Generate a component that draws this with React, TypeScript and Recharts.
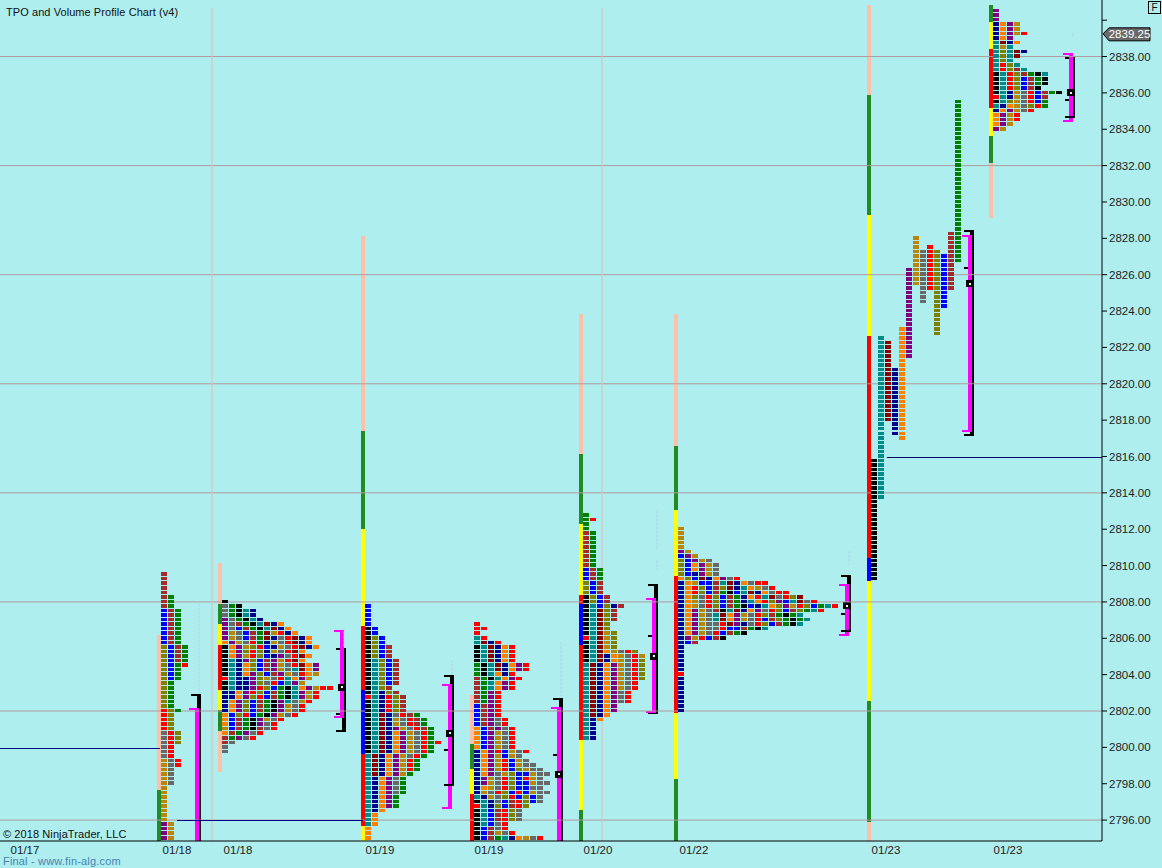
import React from 'react';
import { ComposedChart, Scatter, XAxis, YAxis, ReferenceArea, ReferenceLine, ReferenceDot } from 'recharts';

const PRICE_LOW = 2794.85;
const PRICE_HIGH = 2841.11;
const priceTicks = [2796,2798,2800,2802,2804,2806,2808,2810,2812,2814,2816,2818,2820,2822,2824,2826,2828,2830,2832,2834,2836,2838,2840];
const gridPrices = [2796,2802,2808,2814,2820,2826,2832,2838];
const dateTickSlots = [25,177,238,380,489,598,694,886,1008];
const dateTickLabels = ['01/17','01/18','01/18','01/19','01/19','01/20','01/22','01/23','01/23'];
const lastPrice = 2839.25;

const tpoColors: Record<string,string> = {
  k:'#000000', t:'#008b8b', m:'#8b0000', n:'#00008b', o:'#ff7f00', p:'#800080', d:'#b8860b',
  G:'#696969', r:'#ff0000', O:'#808000', b:'#0000ff', B:'#a52a2a', g:'#008000',
};
const splitColors: Record<string,string> = { s:'#ffc0a8', f:'#228b22', y:'#ffff00', r:'#ff0000', b:'#0000ff' };

const profile1Rows = ['B','B','B','B','B','Bg','Bg','Bg','bBg','bBg','bBg','bBg','bBg','bBg','bBg','bBg',
  'ObBg','ObBg','ObBg','ObBg','Obgr','Obg','Obg','Obg','Og','Og','Og','Og','Og','Og','rOg','rO','rO','rO','rO',
  'GrO','GrO','GrO','Gr','Gr','Gr','dGr','dGr','dG','dG','dG','dG','d','d','d','d','d','d','d','d','pd','pd','pd','pd'];
const profile2Rows = ['k','Ggk','Ggktn','Ggktn','pGgktn','pGBgktmno','pGbBgktmno','pdGbBgmdrno','pdGbBgmnGrmno','opdGrgndGrmno',
  'kopdOrbndGrmno','kopOrOndGrmo','kopdrObnpGrmo','ktnpObBpdrmo','ktnoObBpdGrmop','ktnoObBpdGtmop','ktnopObBpdGrod',
  'rtnnpOdGrtopd','ktnnpOGrbtpd','ktnnprObgktopdrr','nnoprObBgktpdr','nnopOrbBgktpdr','nopObBgkptGdr','nopObBgkpdGr','nopObBgkpdGr',
  'obOrbgkpdGr','obBgkpdGr','obBgkpGr','dbBgkBGr','oBgpGr','BgpGr','BG','G','G'];
const profile3Rows = ['b','b','b','b','b','kb','kb','kOb','kOb','kObB','kObB','kObB','ktObB','ktObB','ktObB','ktObB','ktObB','ktObB','ktOB',
  'ktnOB','rtnrOB','ktnrOB','ktnrOB','ktnrOB','ktmnGrBg','ktmndGrBg','ktmndGrBg','ktmnpdGrBg','ktmnopdGrg','ktmnopdGrg','ktmnopdGrgr',
  'ktmnopdGrg','ktmnopdGrg','tmnopdGrg','tmnopdrg','tmnopdrg','tmnopdrg','tmnopdg','tnopGg','tnopGg','tnopGg','tnopGg','tnopg','tnopg','tnopg',
  'tno','to','to','to','o','o','o'];
const profile4Rows = ['r','rr','r','tr','tmnr','ktmnor','ktmnor','ktmnor','ktmnor','gktmnopr','gktmnopr','gktonr','Bgktopr','Bgtopr','Bgtopr',
  'Bgpr','Bgpr','Bgpr','bBpr','bBpr','bBpr','bBpGr','bBpGr','obBpGr','obpdGr','obpdGr','obpdGr','obpdGr','noprbdGr','nopdbdG','nopdrbdG',
  'nopdrbdGG','nopdrbOdGG','nopGdObbdGG','npdGrObrdG','npdGrObbdGG','nodGrObbGG','ndGrObrbdGG','tndGOrbObG','ktnGbBrObG','rtnObBrO',
  'ktbBrOG','ktbBrOG','ktbBrOG','ktbGr','kbBGr','kbBdGr','kbBgtnodGr'];
const profile5Rows = ['g','gr','g','g','Bg','Bg','Bg','Bg','Bg','Bg','Bg','Bg','bBg','bBg','bBg','ObB','ObB','ObB','kObB','kObB','ktbOnB',
  'ktmOB','ktmOB','ktmOB','ktmO','ktmO','ktmdO','rtmdO','ktmdO','ktmdO','ktmodGrO','ktmnodGrd','ktmnodGrO','tmnopdGrO','tmnopdGrO','tmnopdGrO','tmnopdGrO',
  'tmnopdGr','tmnopdGr','tmnopGr','tmnopGr','tmnopGr','tmnop','tmnop','tmno','tno','tn','tn','tn','tn'];
const profile6Rows = ['d','d','d','d','d','pd','bpd','ObpdG','ObopdG','ObopdG','ObnpdG','oObmnopGr','nodbbBtmnoGrr','norObBOmntodGr','norObBgkbtmnoGrr',
  'noOGrObBgnortmGrOm','nodGrObBgntorOpbtmGr','nodGrObBgkbntoOpdrObgtr','nopdGBktmnopGrObBOgtr','nopdGtmopdGrOBgkgt','nopdGtmopdGrbBOgkgt','nopdGGrmpnGrObBgkt',
  'nopdGGrbbBgkt','nopdGrbBgk','npdrbBk','nbB','n','n','n','n','n','n','r','n','n','n','n','n','n','n','n'];
const profile8Rows = ['p','p','p','nopd','nopd','nopdr','nop','tmno','tdt','tOtmn','tOtm','tOt','trOt','trOBt','ktrOBgkt','ktrObBgk','ktrObBgk','ktrObBk',
  'ktndGrbBgk','rtndGrbB','ktOdGrbg','tnodGOrg','nopdGr','opdr','opdr','opd','pd'];
// profile 7 is made of long unbroken columns: colour code, top price, bottom price
const profile7Columns: [string,number,number][] = [
  ['k',2815.75,2809.25],['t',2822.5,2813.75],['m',2822.25,2818],['n',2820.75,2817.25],['o',2823,2817],['p',2826.25,2821.5],['d',2828,2825.5],
  ['G',2827.25,2824.5],['r',2827.5,2825.25],['O',2827.25,2822.75],['b',2827,2824.25],['B',2828.25,2825.25],['g',2835.5,2826.75],
];

const rowProfiles: { rows: string[]; top: number; slot: number }[] = [
  { rows: profile1Rows, top: 2809.5, slot: 164 },
  { rows: profile2Rows, top: 2808, slot: 225 },
  { rows: profile3Rows, top: 2807.75, slot: 368 },
  { rows: profile4Rows, top: 2806.75, slot: 477 },
  { rows: profile5Rows, top: 2812.75, slot: 586 },
  { rows: profile6Rows, top: 2812, slot: 681 },
  { rows: profile8Rows, top: 2840.5, slot: 996 },
];
const profile7Slot = 874;

const splitBars: { slot: number; runs: [string,number,number][] }[] = [
  { slot: 157, runs: [['s',2806.18,2797.65],['f',2797.65,PRICE_LOW]] },
  { slot: 218, runs: [['s',2810.14,2807.89],['f',2807.89,2806.78],['y',2806.78,2805.63],['r',2805.63,2803.15],['y',2803.15,2802.05],['f',2802.05,2800.89],['s',2800.89,2798.64]] },
  { slot: 361, runs: [['s',2828.13,2817.4],['f',2817.4,2812.01],['y',2812.01,2806.68],['r',2806.68,2803.15],['b',2803.15,2799.63],['r',2799.63,2795.67],['y',2795.67,PRICE_LOW]] },
  { slot: 470, runs: [['s',2802.88,2800.18],['f',2800.18,2798.81],['y',2798.81,2797.43],['r',2797.43,PRICE_LOW]] },
  { slot: 579, runs: [['s',2823.84,2816.14],['f',2816.14,2812.29],['y',2812.29,2808.38],['r',2808.38,2807.89],['b',2807.89,2805.63],['r',2805.63,2800.4],['y',2800.4,2796.55],['f',2796.55,PRICE_LOW]] },
  { slot: 674, runs: [['s',2823.84,2816.58],['f',2816.58,2813.06],['y',2813.06,2809.43],['r',2809.43,2801.89],['y',2801.89,2798.26],['f',2798.26,PRICE_LOW]] },
  { slot: 867, runs: [['s',2840.83,2835.88],['f',2835.88,2829.28],['y',2829.28,2822.63],['r',2822.63,2810.42],['b',2810.42,2809.15],['y',2809.15,2802.55],['f',2802.55,2795.89],['s',2795.89,PRICE_LOW]] },
  { slot: 989, runs: [['f',2840.83,2839.9],['y',2839.9,2838.41],['r',2838.41,2835.17],['y',2835.17,2833.63],['f',2833.63,2832.14],['s',2832.14,2829.12]] },
];

const bracketSlots = [195,340,448,557,652,845,968,1069];
const blackTops = [2802.93,2805.46,2803.98,2802.71,2808.98,2809.48,2828.46,2837.97];
const blackBottoms = [PRICE_LOW,2800.84,2797.87,PRICE_LOW,2801.83,2806.34,2817.13,2834.62];
const blackTicks = [2802.93,2801.89,2799.91,2799.63,2806.18,2807.39,2826.42,2835.66];
const magentaTops = [2802.16,2806.45,2803.48,2802.22,2808.21,2808.98,2828.18,2838.19];
const magentaBottoms = [PRICE_LOW,2801.6,2796.61,PRICE_LOW,2801.89,2806.12,2817.35,2834.4];
const pocPrices = [null,2803.3,2800.79,2798.53,2805.02,2807.78,2825.51,2836.02];

const sessionLines: [number,number,number][] = [[0,160,2799.96],[177,363,2796]];
const darkLine: [number,number,number] = [887,1102,2815.96];
const sessionDividers = [212,602];
const faintTraces: [number,number,number][] = [
  [199,2807.9,2803],[344,2806.6,2805.5],[452,2804.8,2804],[561,2805.8,2802.8],[657,2813.05,2810.85],[657,2810.3,2809.75],[849,2810.8,2810],[1073,2839.3,2839.05],
];

type Cell = { x: number; y: number; code: string };
const cells: Cell[] = [];
rowProfiles.forEach(({ rows, top, slot }) => {
  rows.forEach((row, i) => {
    row.split('').forEach((code, j) => cells.push({ x: slot + j * 7, y: top - i * 0.25, code }));
  });
});
profile7Columns.forEach(([code, hi, lo], j) => {
  for (let p = hi; p >= lo; p -= 0.25) cells.push({ x: profile7Slot + j * 7, y: p, code });
});

const TpoCell = (props: any) => {
  const { cx, cy, payload } = props;
  const top = Math.round(cy - 2.27);
  const bottom = Math.round(cy + 2.27) - 1;
  return <rect x={Math.round(cx - 3)} y={top} width={6} height={Math.max(bottom - top, 2)} fill={tpoColors[payload.code]} shapeRendering="crispEdges" />;
};

const Flag = (props: any) => {
  const { cx, cy } = props;
  return (
    <g>
      <polygon points={`${cx + 1},${cy} ${cx + 7},${cy - 6} ${cx + 48},${cy - 6} ${cx + 48},${cy + 7} ${cx + 7},${cy + 7}`} fill="#696969" stroke="#000" strokeWidth={1} />
      <text x={cx + 27.5} y={cy + 4.5} textAnchor="middle" fontSize={11.5} fontFamily="Liberation Sans" fill="#fff">{lastPrice.toFixed(2)}</text>
    </g>
  );
};

const px = 1 / 18.18;
const box = (key: string, x1: number, x2: number, y1: number, y2: number, fill: string) => (
  <ReferenceArea key={key} x1={x1} x2={x2} y1={y1} y2={y2} fill={fill} fillOpacity={1} stroke="none" ifOverflow="visible" shapeRendering="crispEdges" />
);

const textBase: React.CSSProperties = { position: 'absolute', fontFamily: '"Liberation Sans", sans-serif', fontSize: 11, whiteSpace: 'nowrap', lineHeight: '13px' };

export default function App() {
  return (
    <div style={{ position: 'absolute', left: 0, top: 0, width: 1162, height: 868, background: '#afeeee', overflow: 'hidden' }}>
      <ComposedChart width={1162} height={868} margin={{ top: 0, right: 0, bottom: 0, left: 0 }} data={cells}>
        <XAxis type="number" dataKey="x" domain={[0, 1102]} ticks={dateTickSlots} interval={0} allowDataOverflow height={27}
          tickFormatter={(v: number) => dateTickLabels[dateTickSlots.indexOf(v)]} tickLine={false} axisLine={{ stroke: '#000', strokeWidth: 1 }}
          tick={{ fontSize: 11.5, fontFamily: 'Liberation Sans', fill: '#222', dy: -3 }} tickMargin={2} />
        <YAxis type="number" dataKey="y" orientation="right" width={60} domain={[PRICE_LOW, PRICE_HIGH]} allowDataOverflow ticks={priceTicks} interval={0}
          tickFormatter={(v: number) => (v === 2840 ? '' : v.toFixed(2))} tickSize={5} tickMargin={2} tickLine={{ stroke: '#000' }} axisLine={{ stroke: '#000' }}
          tick={{ fontSize: 11.5, fontFamily: 'Liberation Sans', fill: '#222', textAnchor: 'start' }} />
        {gridPrices.map((p) => <ReferenceLine key={`g${p}`} y={p} stroke="#b09a9e" strokeWidth={1} />)}
        {sessionDividers.map((x) => (
          <ReferenceLine key={`d${x}`} segment={[{ x, y: 2840.67 }, { x, y: PRICE_LOW }]} stroke="#e8b8b0" strokeWidth={1} ifOverflow="visible" />
        ))}
        {sessionLines.map(([a, b, p]) => (
          <ReferenceLine key={`s${a}`} segment={[{ x: a, y: p }, { x: b, y: p }]} stroke="#00008b" strokeWidth={1} shapeRendering="crispEdges" />
        ))}
        <ReferenceLine segment={[{ x: darkLine[0], y: darkLine[2] }, { x: darkLine[1], y: darkLine[2] }]} stroke="#00006b" strokeWidth={1} shapeRendering="crispEdges" />
        {faintTraces.map(([x, a, b]) => (
          <ReferenceLine key={`f${x}${a}`} segment={[{ x, y: a }, { x, y: b }]} stroke="#b4d2f0" strokeWidth={1} strokeDasharray="3 1" />
        ))}
        {splitBars.flatMap(({ slot, runs }) => runs.map(([c, hi, lo]) => box(`b${slot}${hi}`, slot, slot + 4, lo, hi, splitColors[c])))}
        {bracketSlots.flatMap((x, i) => {
          const out = [
            box(`kb${i}`, x + 2, x + 6, blackBottoms[i], blackTops[i], '#000'),
            box(`kt${i}`, x - 4, x + 6, blackTops[i] - 2 * px, blackTops[i], '#000'),
            box(`kk${i}`, x - 4, x + 6, blackTicks[i] - 2 * px, blackTicks[i], '#000'),
            box(`mb${i}`, x, x + 4, magentaBottoms[i], magentaTops[i], '#ff00ff'),
            box(`mt${i}`, x - 6, x + 4, magentaTops[i] - 2 * px, magentaTops[i], '#ff00ff'),
          ];
          if (blackBottoms[i] !== PRICE_LOW) out.push(box(`kl${i}`, x - 4, x + 6, blackBottoms[i], blackBottoms[i] + 2 * px, '#000'));
          if (magentaBottoms[i] !== PRICE_LOW) out.push(box(`ml${i}`, x - 6, x + 4, magentaBottoms[i], magentaBottoms[i] + 2 * px, '#ff00ff'));
          const poc = pocPrices[i];
          if (poc !== null) {
            out.push(box(`pa${i}`, x - 2, x + 6, poc - 3.5 * px, poc + 3.5 * px, '#000'));
            out.push(box(`pb${i}`, x + 1, x + 3, poc - 1 * px, poc + 1 * px, '#e8ffff'));
          }
          return out;
        })}
        <Scatter data={cells} dataKey="y" isAnimationActive={false} shape={TpoCell} />
        <ReferenceDot x={1102} y={lastPrice} ifOverflow="visible" shape={Flag} />
      </ComposedChart>
      <div style={{ ...textBase, left: 6, top: 6, color: '#111', letterSpacing: 0.07 }}>TPO and Volume Profile Chart (v4)</div>
      <div style={{ ...textBase, left: 3, top: 828, color: '#111', letterSpacing: 0.09 }}>© 2018 NinjaTrader, LLC</div>
      <div style={{ ...textBase, left: 3, top: 855, color: '#4682b4', letterSpacing: 0.18 }}>Final - www.fin-alg.com</div>
      <div style={{ ...textBase, left: 1148, top: 1, width: 11, height: 11, border: '1px solid #000', textAlign: 'center', lineHeight: '11px', fontSize: 10, color: '#111' }}>F</div>
    </div>
  );
}
